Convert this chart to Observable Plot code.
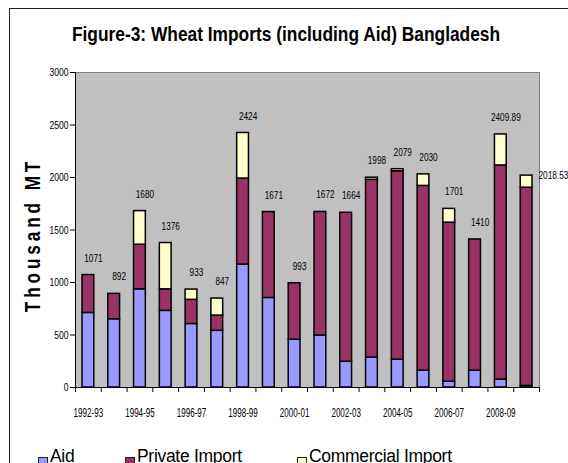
<!DOCTYPE html>
<html><head><meta charset="utf-8">
<script src="https://cdn.jsdelivr.net/npm/d3@7"></script>
<script src="https://cdn.jsdelivr.net/npm/@observablehq/plot@0.6"></script>
<style>
body{margin:0;background:#fff;}
#wrap{position:relative;width:568px;height:463px;overflow:hidden;font-family:"Liberation Sans",Arial,sans-serif;background:#fff;}
#border{position:absolute;left:9px;top:8px;width:620px;height:520px;border:1.5px solid #222;box-sizing:border-box;}
#title{position:absolute;left:0;width:572px;top:22px;text-align:center;font-weight:bold;font-size:21px;line-height:24px;color:#000;white-space:nowrap;transform:scaleX(0.826);transform-origin:286px 0;}
#ylab{position:absolute;left:33px;top:235px;transform:translate(-50%,-50%) rotate(-90deg) scaleX(0.78);font-weight:bold;font-size:22px;letter-spacing:5px;white-space:nowrap;color:#000;}
#chart{position:absolute;left:0;top:0;}
#legend{position:absolute;left:0;top:0;width:568px;height:463px;pointer-events:none;}
.lg{position:absolute;top:446px;font-size:17.5px;letter-spacing:-0.3px;line-height:20px;white-space:nowrap;color:#000;}
.sw{position:absolute;top:457px;width:8px;height:8px;border:1px solid #222;}
</style>
</head><body>
<div id="wrap">
  <div id="chart"></div>
  <div id="border"></div>
  <div id="title">Figure-3: Wheat Imports (including Aid) Bangladesh</div>
  <div id="ylab">Thousand MT</div>
  <div id="legend"></div>
</div>
<script>
const years = ["1992-93","1993-94","1994-95","1995-96","1996-97","1997-98","1998-99","1999-00","2000-01","2001-02","2002-03","2003-04","2004-05","2005-06","2006-07","2007-08","2008-09","2009-10"];
const aid        = [710, 650, 935, 730, 605, 540, 1170, 853, 455, 495, 245, 285, 265, 160, 55, 160, 75, 15];
const privateImp = [361, 242, 425, 205, 230, 145, 820, 818, 538, 1177, 1419, 1693, 1794, 1760, 1515, 1250, 2040, 1888];
const commercial = [0, 0, 320, 441, 98, 162, 434, 0, 0, 0, 0, 20, 20, 110, 131, 0, 295, 115];
const totalLabels = ["1071","892","1680","1376","933","847","2424","1671","993","1672","1664","1998","2079","2030","1701","1410","2409.89","2018.53"];
const seriesNames = ["Aid","Private Import","Commercial Import"];
const seriesColors = ["#9999FF","#993366","#FFFFCC"];
const yTicks = [0,500,1000,1500,2000,2500,3000];

const rows = [];
years.forEach((yr, i) => {
  let base = 0;
  [aid[i], privateImp[i], commercial[i]].forEach((v, k) => {
    if (v > 0) rows.push({i, year: yr, series: seriesNames[k], y1: base, y2: base + v});
    base += v;
  });
});
const totals = years.map((yr, i) => ({i, year: yr, total: aid[i] + privateImp[i] + commercial[i], label: totalLabels[i]}));

const chart = Plot.plot({
  width: 568, height: 463,
  marginLeft: 75, marginRight: 29, marginTop: 72, marginBottom: 76,
  style: {fontFamily: "'Liberation Sans',Arial,sans-serif", fontSize: "11px", background: "transparent", color: "#000"},
  x: {type: "linear", domain: [0, years.length]},
  y: {domain: [0, 3000]},
  color: {domain: seriesNames, range: seriesColors},
  marks: [
    Plot.frame({fill: "#C0C0C0", stroke: "#808080"}),
    Plot.rect(rows, {x1: "i", x2: d => d.i + 1, y1: "y1", y2: "y2", fill: "series", stroke: "#000", strokeWidth: 1.5, insetLeft: 7, insetRight: 7}),
    Plot.ruleX([0], {stroke: "#000"}),
    Plot.ruleY([0], {stroke: "#000"}),
    Plot.axisY({ticks: yTicks, tickSize: 5, tickPadding: 2, label: null, fontSize: 11, tickFormat: d => String(d)}),
    Plot.axisX({ticks: d3.range(0, years.length + 1), tickSize: 5, tickFormat: () => "", label: null}),
    Plot.axisX({ticks: years.map((y, i) => i + 0.5).filter((_, i) => i % 2 === 0), tickSize: 0, tickPadding: 20, fontSize: 13, tickFormat: v => years[Math.floor(v)], label: null}),
    Plot.text(totals.slice(0, -1), {x: d => d.i + 0.5, y: "total", text: "label", dy: -17, dx: 5, fill: "#000", fontSize: 11}),
    Plot.text(totals.slice(-1), {x: d => d.i + 1, y: "total", text: "label", textAnchor: "start", dx: -1, fill: "#000", fontSize: 11})
  ]
});
document.getElementById("chart").appendChild(chart);

function squeeze(sel, s) {
  chart.querySelectorAll(sel).forEach(t => {
    const x = +t.getAttribute("x") || 0;
    const tr = t.getAttribute("transform") || "";
    t.setAttribute("transform", `${tr} translate(${x},0) scale(${s},1) translate(${-x},0)`);
  });
}
squeeze('g[aria-label="x-axis tick label"] text', 0.62);
squeeze('g[aria-label="y-axis tick label"] text', 0.78);
squeeze('g[aria-label="text"] text', 0.75);

const lg = document.getElementById("legend");
const lgX = [38, 125, 297];
seriesNames.forEach((name, k) => {
  const sw = document.createElement("div");
  sw.className = "sw"; sw.style.left = lgX[k] + "px"; sw.style.background = seriesColors[k];
  lg.appendChild(sw);
  const t = document.createElement("div");
  t.className = "lg"; t.style.left = (lgX[k] + 12) + "px"; t.textContent = name;
  lg.appendChild(t);
});
</script>
</body></html>
